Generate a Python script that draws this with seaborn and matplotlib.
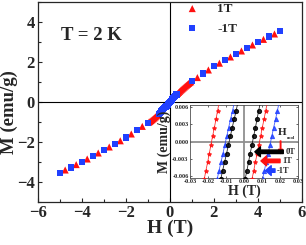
import numpy as np
import pandas as pd
import matplotlib
matplotlib.use('Agg')
import matplotlib.pyplot as plt
from matplotlib.ticker import MultipleLocator
import seaborn as sns

# main loop, field cooled in +1 T (red) and -1 T (blue)
H_1T = [-4.75, -4.25, -3.75, -3.25, -2.75, -2.25, -1.75, -1.25,
        -0.95, -0.9, -0.85, -0.8, -0.75, -0.7, -0.65, -0.6, -0.55, -0.5,
        0.35, 0.4, 0.45, 0.5, 0.55, 0.6, 0.65, 0.7, 0.75, 0.8, 0.85, 0.9, 0.95,
        1.25, 1.75, 2.25, 2.75, 3.25, 3.75, 4.25, 4.75]
M_1T = [-3.4, -3.13, -2.85, -2.55, -2.25, -1.94, -1.6, -1.22,
        -1.01, -0.97, -0.925, -0.88, -0.835, -0.79, -0.74, -0.69, -0.64, -0.59,
        0.425, 0.48, 0.535, 0.59, 0.64, 0.69, 0.74, 0.79, 0.835, 0.88, 0.925, 0.97, 1.01,
        1.22, 1.6, 1.94, 2.25, 2.55, 2.85, 3.13, 3.4]
H_m1T = [-5.0, -4.5, -4.0, -3.5, -3.0, -2.5, -2.0, -1.5, -1.0,
         -0.5, -0.45, -0.4, -0.35, -0.3, -0.25, -0.2, -0.15, -0.1, -0.05,
         0.0, 0.05, 0.1, 0.15, 0.2, 0.25, 0.3,
         1.0, 1.5, 2.0, 2.5, 3.0, 3.5, 4.0, 4.5, 5.0]
M_m1T = [-3.55, -3.27, -3.0, -2.7, -2.4, -2.1, -1.78, -1.42, -1.05,
         -0.59, -0.535, -0.48, -0.425, -0.37, -0.31, -0.25, -0.19, -0.127, -0.064,
         0.0, 0.064, 0.127, 0.19, 0.25, 0.31, 0.37,
         1.05, 1.42, 1.78, 2.1, 2.4, 2.7, 3.0, 3.27, 3.55]

# inset: low-field branches for each cooling field
M_in = [-0.0066, -0.0051, -0.0036, -0.0021, -0.0006, 0.0009, 0.0024, 0.0039, 0.0054, 0.0069]
H_0T_left = [-0.0129, -0.0119, -0.0108, -0.0097, -0.0087, -0.0076, -0.0066, -0.0055, -0.0044, -0.0034]
H_0T_right = [0.0006, 0.0016, 0.0025, 0.0034, 0.0044, 0.0053, 0.0063, 0.0072, 0.0081, 0.0091]
H_1T_left = [-0.0221, -0.0212, -0.0202, -0.0193, -0.0184, -0.0175, -0.0165, -0.0156, -0.0147, -0.0138]
H_1T_right = [0.0044, 0.0054, 0.0063, 0.0073, 0.0082, 0.0092, 0.0101, 0.0111, 0.0120, 0.0130]
H_m1T_left = [-0.0149, -0.0139, -0.0128, -0.0117, -0.0107, -0.0096, -0.0086, -0.0075, -0.0064, -0.0054]
H_m1T_right = [0.0103, 0.0113, 0.0123, 0.0134, 0.0144, 0.0154, 0.0164, 0.0175, 0.0185, 0.0195]

RED = '#ff1010'
BLUE = '#2040ff'

sns.set_style('ticks')
plt.rcParams['font.family'] = ['Liberation Serif', 'DejaVu Serif']
plt.rcParams['font.weight'] = 'bold'
plt.rcParams['axes.labelweight'] = 'bold'
plt.rcParams['xtick.direction'] = 'in'
plt.rcParams['ytick.direction'] = 'in'

fig = plt.figure(figsize=(3.06, 2.45), dpi=100)
ax = fig.add_axes([0.123, 0.1755, 0.864, 0.8165])

ax.axhline(0, color='black', lw=0.8, zorder=1)
ax.axvline(0, color='black', lw=0.8, zorder=1)

df1 = pd.DataFrame({'H': H_1T, 'M': M_1T})
df2 = pd.DataFrame({'H': H_m1T, 'M': M_m1T})
sns.scatterplot(data=df1, x='H', y='M', ax=ax, marker='^', s=26, color=RED,
                edgecolor='none', label='1T', zorder=3)
sns.scatterplot(data=df2, x='H', y='M', ax=ax, marker='s', s=20, color=BLUE,
                edgecolor='none', label='-1T', zorder=4)

ax.set_xlim(-6, 6)
ax.set_ylim(-5, 5)
ax.xaxis.set_major_locator(MultipleLocator(2))
ax.xaxis.set_minor_locator(MultipleLocator(1))
ax.yaxis.set_major_locator(MultipleLocator(2))
ax.yaxis.set_minor_locator(MultipleLocator(1))
ax.tick_params(which='major', length=3, width=0.8, labelsize=12, pad=2)
ax.tick_params(which='minor', length=2, width=0.8)
ax.set_xlabel('H (T)', fontsize=14, labelpad=-1)
ax.set_ylabel('M (emu/g)', fontsize=13.5)
ax.yaxis.set_label_coords(-0.075, 0.45)
for sp in ax.spines.values():
    sp.set_linewidth(0.9)

ax.text(-4.95, 3.33, 'T = 2 K', fontsize=13.5, fontweight='bold', va='center', ha='left')

leg = ax.legend(loc='upper left', bbox_to_anchor=(0.49, 1.055), frameon=False,
                fontsize=9.5, handletextpad=0.9, labelspacing=0.55, markerscale=1.0)

# inset
axin = fig.add_axes([0.621, 0.2735, 0.353, 0.2975])
axin.axhline(0, color='#909090', lw=1.3, zorder=1)
axin.axvline(0, color='#909090', lw=1.3, zorder=1)

branches = [
    (H_1T_left, RED, '*'), (H_1T_right, RED, '*'),
    (H_m1T_left, BLUE, '^'), (H_m1T_right, BLUE, '^'),
    (H_0T_left, 'black', 'o'), (H_0T_right, 'black', 'o'),
]
for hs, col, mk in branches:
    d = pd.DataFrame({'H': hs, 'M': M_in})
    sns.lineplot(data=d, x='H', y='M', ax=axin, color=col, lw=0.6, alpha=0.85,
                 marker=mk, markersize=3, markeredgecolor=col, sort=False,
                 estimator=None, zorder=3)

axin.set_xlim(-0.03, 0.03)
axin.set_ylim(-0.0064, 0.0064)
axin.set_xticks([-0.03, -0.02, -0.01, 0.0, 0.01, 0.02, 0.03])
axin.set_xticklabels(['-0.03', '-0.02', '-0.01', '0.00', '0.01', '0.02', '0.03'])
axin.set_yticks([-0.006, -0.003, 0.0, 0.003, 0.006])
axin.set_yticklabels(['-0.006', '-0.003', '0.000', '0.003', '0.006'])
axin.tick_params(labelsize=4.5, length=1.5, width=0.5, pad=1, right=True, top=True)
axin.set_xlabel('H (T)', fontsize=10, labelpad=0)
axin.set_ylabel('M (emu/g)', fontsize=10, labelpad=1)
for sp in axin.spines.values():
    sp.set_linewidth(0.6)
    sp.set_color('#505050')

axin.text(0.0190, 0.0016, 'H', fontsize=8, fontweight='bold', ha='left', va='center')
axin.text(0.0236, 0.0006, 'cool', fontsize=3.5, fontweight='bold', ha='left', va='center')
axin.annotate('', xy=(0.0203, -0.0021), xytext=(0.0203, 0.0001),
              arrowprops=dict(facecolor=RED, edgecolor=RED, width=0.4, headwidth=3, headlength=3))
for y, x0, x1, col, lab in [(-0.0018, 0.0218, 0.0060, 'black', '0T'),
                            (-0.0034, 0.0200, 0.0094, RED, '1T'),
                            (-0.0051, 0.0172, 0.0120, BLUE, '-1T')]:
    axin.annotate('', xy=(x1, y), xytext=(x0, y),
                  arrowprops=dict(facecolor=col, edgecolor=col, width=2.5,
                                  headwidth=7, headlength=4))
    axin.text(x0 + 0.0012, y, lab, fontsize=6, fontweight='bold', ha='left', va='center')

fig.savefig('out.png', dpi=100)
